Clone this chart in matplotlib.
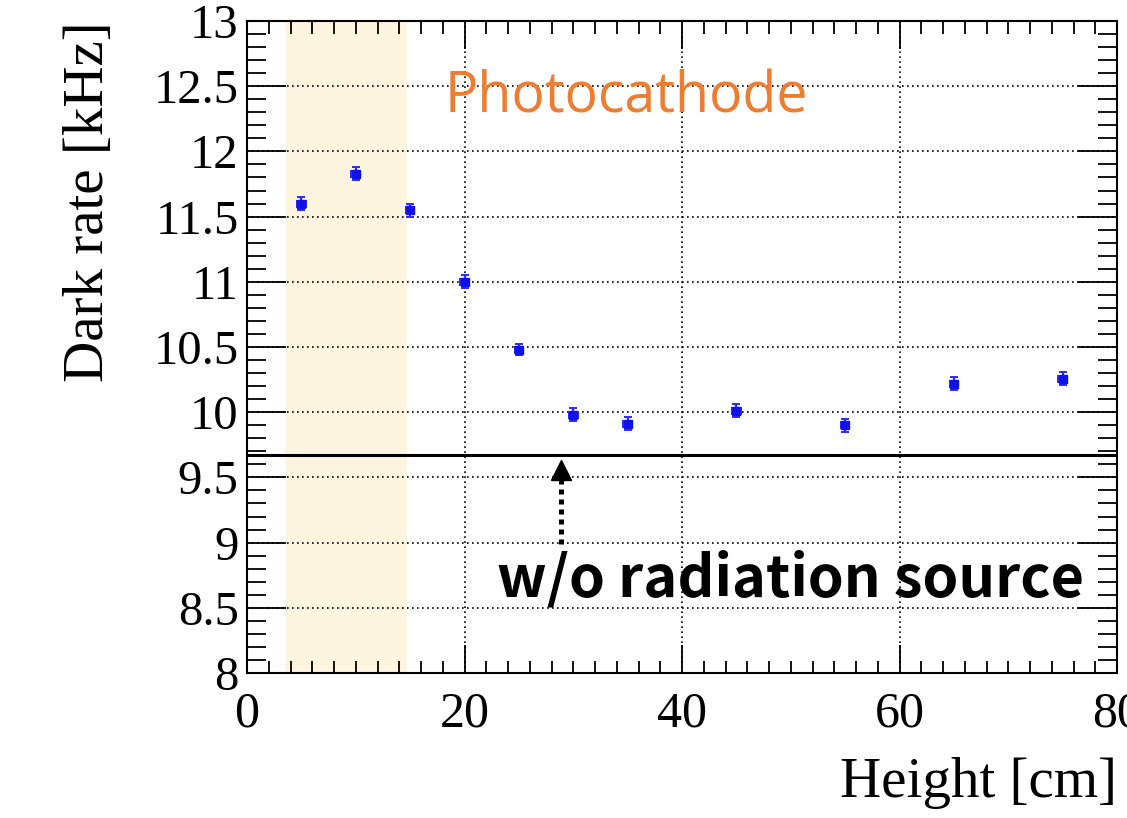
import matplotlib
matplotlib.use('Agg')
from matplotlib import pyplot as plt
from matplotlib.ticker import MultipleLocator

# data
height = [5, 10, 15, 20, 25, 30, 35, 45, 55, 65, 75]
rate = [11.60, 11.83, 11.55, 11.00, 10.48, 9.98, 9.91, 10.01, 9.90, 10.22, 10.255]
rate_err = [0.05, 0.05, 0.05, 0.05, 0.04, 0.05, 0.05, 0.05, 0.05, 0.05, 0.05]
baseline = 9.67
pc_lo, pc_hi = 3.5, 14.7
arrow_x = 28.85
arrow_from, arrow_to = 8.99, 9.64

fig = plt.figure(figsize=(11.27, 8.18), dpi=100)
ax = fig.add_axes([247/1127, 1-673/818, 870/1127, 652/818])

serif = ['Liberation Serif', 'DejaVu Serif']

ax.axvspan(pc_lo, pc_hi, color='#fdf5e0', zorder=0, lw=0)
ax.axhline(baseline, color='black', lw=2.2, zorder=2)

ax.errorbar(height, rate, yerr=rate_err, xerr=0.4, fmt='s', color='#1010e8',
            ms=5.5, mec='#1010e8', ecolor='#2a2aff', elinewidth=1.6, capsize=3,
            capthick=1.4, zorder=4)

# dotted arrow pointing at the no-source level
head = 0.08
ax.plot([arrow_x, arrow_x], [arrow_from, arrow_to - 2*head + 0.02], color='black',
        lw=3.6, linestyle=(0, (1, 1)), solid_capstyle='butt', zorder=5)
ax.plot([arrow_x], [arrow_to - head], marker='^', ms=14.5, color='black', zorder=5)

ax.text(18.2, 12.41, 'Photocathode', color='#ed7d31', fontsize=40,
        family=['Open Sans', 'DejaVu Sans'], va='center', ha='left')
ax.text(23.0, 8.72, 'w/o radiation source', color='black', fontsize=41.5,
        family=['Noto Sans CJK JP', 'Open Sans', 'DejaVu Sans'], fontweight='bold',
        va='center', ha='left')

ax.set_xlim(0, 80)
ax.set_ylim(8, 13)
ax.xaxis.set_major_locator(MultipleLocator(20))
ax.xaxis.set_minor_locator(MultipleLocator(2))
ax.yaxis.set_minor_locator(MultipleLocator(0.1))
ax.set_yticks([8, 8.5, 9, 9.5, 10, 10.5, 11, 11.5, 12, 12.5, 13])
ax.set_yticklabels(['8', '8.5', '9', '9.5', '10', '10.5', '11', '11.5', '12', '12.5', '13'])

ax.grid(True, which='major', color='black', linestyle=(0, (1, 2)), lw=1.2, zorder=1)
ax.tick_params(axis='x', which='major', direction='in', length=20, width=1.3,
               top=True, pad=13, labelsize=36)
ax.tick_params(axis='x', which='minor', direction='in', length=9, width=1.3, top=True)
ax.tick_params(axis='y', which='major', direction='in', length=28, width=1.3,
               right=True, pad=6, labelsize=35)
ax.tick_params(axis='y', which='minor', direction='in', length=14, width=1.3, right=True)
for lab in ax.get_xticklabels() + ax.get_yticklabels():
    lab.set_family(serif)
for sp in ax.spines.values():
    sp.set_linewidth(1.5)

ax.set_xlabel('Height [cm]', fontsize=41, family=serif, loc='right', labelpad=14)
ax.set_ylabel('Dark rate [kHz]', fontsize=41, family=serif, loc='top', labelpad=28)

fig.savefig('out.png', dpi=100)
